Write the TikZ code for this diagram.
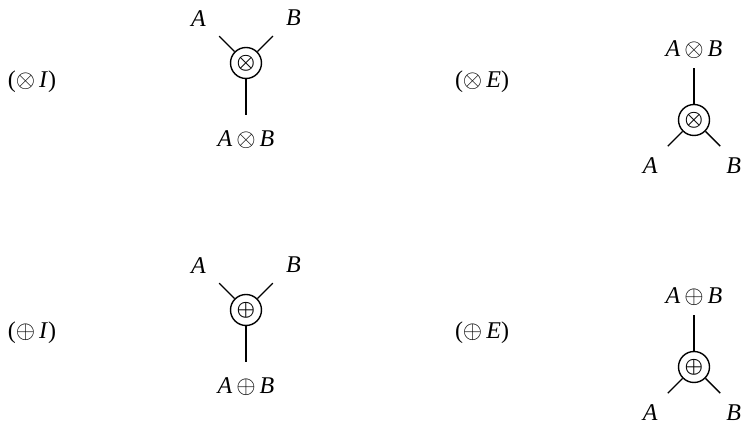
\documentclass[tikz,border=0pt]{standalone}
\usepackage{fontspec}
\setmainfont{Liberation Serif}
\usetikzlibrary{positioning}

\tikzset{
  conn/.style={circle, draw, line width=1.4pt, minimum size=31pt, inner sep=0pt,
    font=\fontsize{20.74}{21}\selectfont\boldmath},
  formula/.style={font=\fontsize{24}{28}\selectfont, inner sep=1pt},
  rulename/.style={font=\fontsize{24}{28}\selectfont, inner sep=0pt},
  wire/.style={line width=1.4pt},
}

\begin{document}
\begin{tikzpicture}[x=1pt,y=1pt]
\useasboundingbox (0,0) rectangle (742,425);

% tensor introduction
\node[rulename] (tInsName) at (32,343) {($\otimes$\,\textit{I})};
\node[conn] (tIns) at (246,362) {$\otimes$};
\path (tIns.center) ++(135:38) coordinate (tInsA);
\path (tIns.center) ++(45:38) coordinate (tInsB);
\path (tIns.center) ++(0,-52) coordinate (tInsAB);
\draw[wire] (tIns) -- (tInsA);
\draw[wire] (tIns) -- (tInsB);
\draw[wire] (tIns) -- (tInsAB);
\node[formula, above left=8pt and 12pt of tInsA] (tInsLA) {\textit{A}};
\node[formula, above right=9pt and 12pt of tInsB] (tInsLB) {\textit{B}};
\node[formula, below=14pt of tInsAB] (tInsLAB) {\textit{A}\,$\otimes$\,\textit{B}};

% tensor elimination
\node[rulename] (tElimName) at (482,343) {($\otimes$\,\textit{E})};
\node[conn] (tElim) at (694,305) {$\otimes$};
\path (tElim.center) ++(0,52) coordinate (tElimAB);
\path (tElim.center) ++(225:37) coordinate (tElimA);
\path (tElim.center) ++(315:37) coordinate (tElimB);
\draw[wire] (tElim) -- (tElimAB);
\draw[wire] (tElim) -- (tElimA);
\draw[wire] (tElim) -- (tElimB);
\node[formula, above=8pt of tElimAB] (tElimLAB) {\textit{A}\,$\otimes$\,\textit{B}};
\node[formula, below left=10pt and 9pt of tElimA] (tElimLA) {\textit{A}};
\node[formula, below right=10pt and 5pt of tElimB] (tElimLB) {\textit{B}};

% par introduction
\node[rulename] (pInsName) at (32,92) {($\oplus$\,\textit{I})};
\node[conn] (pIns) at (246,115) {$\oplus$};
\path (pIns.center) ++(135:38) coordinate (pInsA);
\path (pIns.center) ++(45:38) coordinate (pInsB);
\path (pIns.center) ++(0,-52) coordinate (pInsAB);
\draw[wire] (pIns) -- (pInsA);
\draw[wire] (pIns) -- (pInsB);
\draw[wire] (pIns) -- (pInsAB);
\node[formula, above left=8pt and 12pt of pInsA] (pInsLA) {\textit{A}};
\node[formula, above right=9pt and 12pt of pInsB] (pInsLB) {\textit{B}};
\node[formula, below=14pt of pInsAB] (pInsLAB) {\textit{A}\,$\oplus$\,\textit{B}};

% par elimination
\node[rulename] (pElimName) at (482,92) {($\oplus$\,\textit{E})};
\node[conn] (pElim) at (694,58) {$\oplus$};
\path (pElim.center) ++(0,52) coordinate (pElimAB);
\path (pElim.center) ++(225:37) coordinate (pElimA);
\path (pElim.center) ++(315:37) coordinate (pElimB);
\draw[wire] (pElim) -- (pElimAB);
\draw[wire] (pElim) -- (pElimA);
\draw[wire] (pElim) -- (pElimB);
\node[formula, above=8pt of pElimAB] (pElimLAB) {\textit{A}\,$\oplus$\,\textit{B}};
\node[formula, below left=10pt and 9pt of pElimA] (pElimLA) {\textit{A}};
\node[formula, below right=10pt and 5pt of pElimB] (pElimLB) {\textit{B}};

\end{tikzpicture}
\end{document}
